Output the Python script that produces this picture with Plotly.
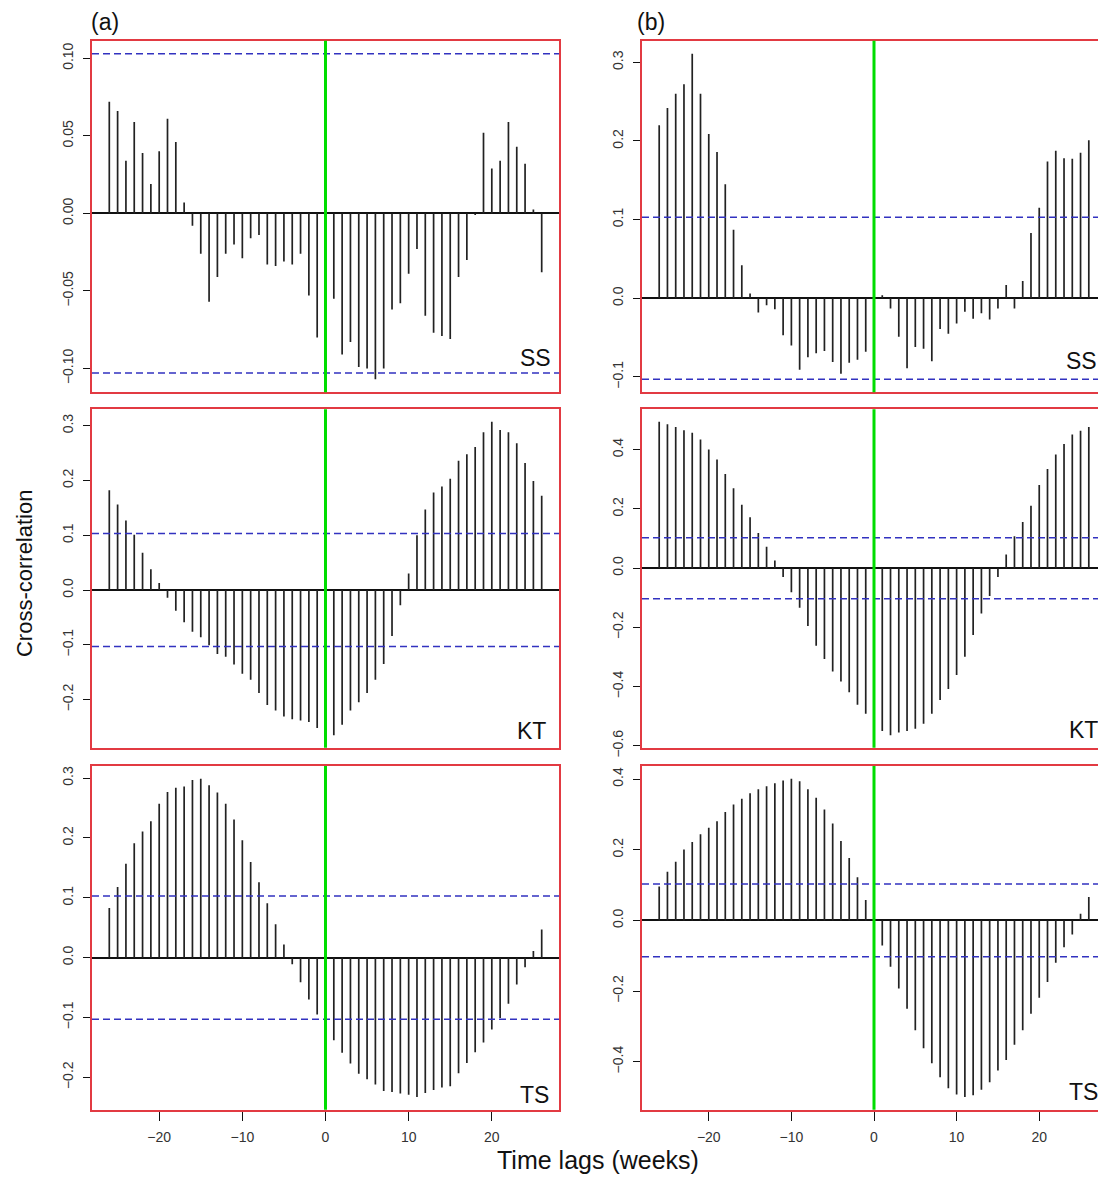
import plotly.graph_objects as go

# ---------------- data ----------------
lags = list(range(-26, 27))
ci = 0.103  # approximate 95% confidence bound

ss_a = [0.072, 0.066, 0.034, 0.059, 0.039, 0.019, 0.040, 0.061, 0.046, 0.007,
        -0.008, -0.026, -0.057, -0.041, -0.026, -0.020, -0.029, -0.016, -0.014, -0.033,
        -0.034, -0.031, -0.033, -0.026, -0.053, -0.080,
        -0.070,
        -0.055, -0.091, -0.083, -0.099, -0.100, -0.107, -0.100, -0.062, -0.058, -0.039,
        -0.023, -0.066, -0.077, -0.079, -0.081, -0.041, -0.030, -0.001, 0.052, 0.029,
        0.034, 0.059, 0.043, 0.032, 0.0025, -0.038]

kt_a = [0.182, 0.156, 0.127, 0.101, 0.068, 0.038, 0.013, -0.014, -0.038, -0.059,
        -0.076, -0.086, -0.101, -0.117, -0.122, -0.136, -0.153, -0.164, -0.188, -0.210,
        -0.220, -0.231, -0.236, -0.238, -0.241, -0.252,
        -0.258,
        -0.265, -0.246, -0.220, -0.205, -0.188, -0.164, -0.135, -0.084, -0.028, 0.030,
        0.100, 0.147, 0.178, 0.189, 0.203, 0.236, 0.248, 0.261, 0.288, 0.307,
        0.292, 0.288, 0.268, 0.232, 0.199, 0.172]

ts_a = [0.083, 0.118, 0.157, 0.191, 0.211, 0.228, 0.257, 0.277, 0.284, 0.286,
        0.297, 0.299, 0.288, 0.276, 0.257, 0.231, 0.196, 0.160, 0.126, 0.091,
        0.056, 0.022, -0.011, -0.041, -0.070, -0.095,
        -0.118,
        -0.138, -0.159, -0.177, -0.194, -0.203, -0.212, -0.223, -0.2245, -0.227, -0.229,
        -0.233, -0.226, -0.221, -0.217, -0.215, -0.193, -0.176, -0.158, -0.142, -0.120,
        -0.101, -0.077, -0.045, -0.016, 0.011, 0.047]

ss_b = [0.220, 0.242, 0.260, 0.272, 0.311, 0.260, 0.209, 0.186, 0.145, 0.087,
        0.042, 0.006, -0.018, -0.009, -0.014, -0.047, -0.060, -0.091, -0.075, -0.070,
        -0.067, -0.081, -0.096, -0.082, -0.078, -0.068,
        -0.050,
        0.004, -0.013, -0.049, -0.089, -0.062, -0.064, -0.080, -0.039, -0.045, -0.032,
        -0.017, -0.026, -0.019, -0.027, -0.013, 0.017, -0.013, 0.022, 0.083, 0.115,
        0.174, 0.1875, 0.178, 0.1775, 0.185, 0.201]

kt_b = [0.494, 0.486, 0.477, 0.466, 0.457, 0.434, 0.401, 0.367, 0.318, 0.270,
        0.214, 0.172, 0.119, 0.072, 0.026, -0.030, -0.081, -0.134, -0.195, -0.262,
        -0.307, -0.349, -0.383, -0.419, -0.461, -0.492,
        -0.520,
        -0.550, -0.564, -0.555, -0.550, -0.542, -0.525, -0.492, -0.445, -0.408, -0.361,
        -0.299, -0.226, -0.153, -0.094, -0.030, 0.046, 0.108, 0.156, 0.211, 0.281,
        0.335, 0.384, 0.419, 0.451, 0.464, 0.477]

ts_b = [0.096, 0.138, 0.166, 0.201, 0.222, 0.244, 0.262, 0.281, 0.307, 0.328,
        0.344, 0.360, 0.371, 0.380, 0.388, 0.396, 0.401, 0.394, 0.371, 0.347,
        0.314, 0.274, 0.225, 0.177, 0.122, 0.058,
        -0.005,
        -0.071, -0.131, -0.193, -0.250, -0.311, -0.362, -0.404, -0.444, -0.475, -0.493,
        -0.500, -0.495, -0.479, -0.458, -0.425, -0.395, -0.352, -0.311, -0.264, -0.219,
        -0.174, -0.120, -0.076, -0.040, 0.019, 0.066]

x_ticks = [-20, -10, 0, 10, 20]
yt_ss_a = [-0.10, -0.05, 0.00, 0.05, 0.10]
yt_kt_a = [-0.2, -0.1, 0.0, 0.1, 0.2, 0.3]
yt_ts_a = [-0.2, -0.1, 0.0, 0.1, 0.2, 0.3]
yt_ss_b = [-0.1, 0.0, 0.1, 0.2, 0.3]
yt_kt_b = [-0.6, -0.4, -0.2, 0.0, 0.2, 0.4]
yt_ts_b = [-0.4, -0.2, 0.0, 0.2, 0.4]

series_names = ["SS", "KT", "TS"]
panel_letters = ["(a)", "(b)"]

# ---------------- layout geometry (target pixels) ----------------
W, H = 1106, 1179
OX, OY, HE = 8, 8, 1171   # page offset / effective drawing height


def fx(px):
    return (px - OX) / W


def fy(py):
    return 1 - (py - OY) / HE


col_px = [(92, 559), (642, 1106)]
row_px = [(40.7, 393), (410, 749), (767.3, 1111.7)]

FONT = "Liberation Sans, Arial, sans-serif"
RED = "#e23a42"
BLUE = "#3232c0"
GREEN = "#00dd00"
BAR = "#222222"

panels = [
    (0, 0, ss_a, yt_ss_a, ".2f"),
    (0, 1, ss_b, yt_ss_b, ".1f"),
    (1, 0, kt_a, yt_kt_a, ".1f"),
    (1, 1, kt_b, yt_kt_b, ".1f"),
    (2, 0, ts_a, yt_ts_a, ".1f"),
    (2, 1, ts_b, yt_ts_b, ".1f"),
]

label_pos = {  # (right edge x, center y) in pixels for SS/KT/TS labels
    (0, 0): (553, 359), (0, 1): (1099, 362),
    (1, 0): (548, 732), (1, 1): (1100, 731),
    (2, 0): (551, 1097), (2, 1): (1100, 1094),
}

fig = go.Figure()
shapes = []
annotations = []
xr = [lags[0] - 0.04 * (lags[-1] - lags[0]), lags[-1] + 0.04 * (lags[-1] - lags[0])]

for i, (r, c, vals, yt, fmt) in enumerate(panels):
    n = i + 1
    xa = "x" if n == 1 else f"x{n}"
    ya = "y" if n == 1 else f"y{n}"
    xs, ys = [], []
    for k, v in zip(lags, vals):
        xs += [k, k, None]
        ys += [0, v, None]
    fig.add_trace(go.Scatter(x=xs, y=ys, mode="lines", xaxis=xa, yaxis=ya,
                             line=dict(color=BAR, width=1.7), showlegend=False,
                             hoverinfo="skip"))
    lo = min(min(vals), -ci)
    hi = max(max(vals), ci)
    pad = 0.04 * (hi - lo)
    x0, x1 = col_px[c]
    y0, y1 = row_px[r]
    xd = [max(0, fx(x0)), min(1, fx(x1))]
    yd = [max(0, fy(y1)), min(1, fy(y0))]
    bottom = (r == 2)
    fig.layout[f"xaxis{'' if n == 1 else n}"] = dict(
        domain=xd, anchor=ya, range=xr, tickvals=x_ticks if bottom else [],
        showticklabels=bottom, ticks="outside" if bottom else "", ticklen=9,
        tickcolor="#111", tickwidth=1.2,
        showline=True, mirror=True, linecolor=RED, linewidth=2,
        showgrid=False, zeroline=False,
        tickfont=dict(family=FONT, size=14, color="#333"),
        ticklabelstandoff=4,
    )
    fig.layout[f"yaxis{'' if n == 1 else n}"] = dict(
        domain=yd, anchor=xa, range=[lo - pad, hi + pad], tickvals=yt,
        tickformat=fmt, ticks="outside", ticklen=7, tickcolor="#111", tickwidth=1.2,
        tickangle=-90, showline=True, mirror=(c == 0), linecolor=RED, linewidth=2,
        showgrid=False, zeroline=True, zerolinecolor="#111", zerolinewidth=1.6,
        tickfont=dict(family=FONT, size=14, color="#333"),
        ticklabelstandoff=4,
    )
    xdom = f"{xa} domain"
    ydom = f"{ya} domain"
    # confidence bounds
    for yv in (ci, -ci):
        shapes.append(dict(type="line", xref=xdom, yref=ya, x0=0, x1=1, y0=yv, y1=yv,
                           line=dict(color=BLUE, width=1.5, dash="7px,4px"), layer="above"))
    # lag-0 marker
    shapes.append(dict(type="line", xref=xa, yref=ydom, x0=0, x1=0, y0=0, y1=1,
                       line=dict(color=GREEN, width=3), layer="above"))
    lx, ly = label_pos[(r, c)]
    annotations.append(dict(text=series_names[r], xref="paper", yref="paper",
                            x=fx(lx), y=fy(ly), xanchor="right", yanchor="middle",
                            showarrow=False, font=dict(family=FONT, size=23, color="#111")))

annotations.append(dict(text=panel_letters[0], xref="paper", yref="paper", x=fx(105), y=fy(22),
                        xanchor="center", yanchor="middle", showarrow=False,
                        font=dict(family=FONT, size=23, color="#111")))
annotations.append(dict(text=panel_letters[1], xref="paper", yref="paper", x=fx(651), y=fy(22),
                        xanchor="center", yanchor="middle", showarrow=False,
                        font=dict(family=FONT, size=23, color="#111")))
annotations.append(dict(text="Cross-correlation", xref="paper", yref="paper", x=fx(24), y=fy(574),
                        xanchor="center", yanchor="middle", textangle=-90, showarrow=False,
                        font=dict(family=FONT, size=22, color="#111")))
annotations.append(dict(text="Time lags (weeks)", xref="paper", yref="paper", x=fx(598), y=fy(1162),
                        xanchor="center", yanchor="middle", showarrow=False,
                        font=dict(family=FONT, size=25, color="#111")))

fig.update_layout(width=W, height=H, margin=dict(l=0, r=0, t=0, b=0),
                  paper_bgcolor="white", plot_bgcolor="white",
                  shapes=shapes, annotations=annotations, showlegend=False)

fig.write_html("out.html")
